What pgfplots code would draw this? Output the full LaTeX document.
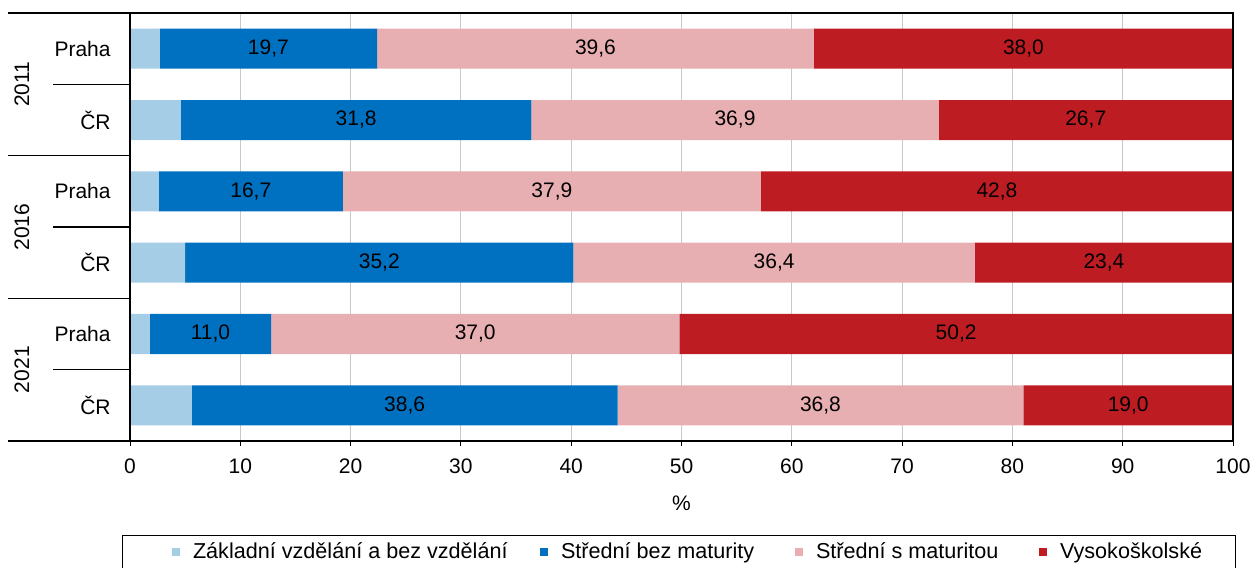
\documentclass[border=0pt]{standalone}
\usepackage{fontspec}
\setmainfont{Liberation Sans}
\usepackage{pgfplots}
\usepackage{pgfplotstable}
\pgfplotsset{compat=1.18}

\definecolor{czakl}{RGB}{166,205,230}
\definecolor{cstr}{RGB}{0,112,192}
\definecolor{cmat}{RGB}{232,175,178}
\definecolor{cvs}{RGB}{190,28,35}
\definecolor{cgrid}{RGB}{200,200,200}

% grid below the bars, frame above them
\pgfplotsset{
  layers/bgrid/.define layer set={axis background,axis grid,pre main,main,axis ticks,axis lines,axis tick labels,axis descriptions,axis foreground}{
    grid style={/pgfplots/on layer=axis grid},
    tick style={/pgfplots/on layer=axis ticks},
    axis line style={/pgfplots/on layer=axis lines},
    label style={/pgfplots/on layer=axis descriptions},
    legend style={/pgfplots/on layer=axis descriptions},
    title style={/pgfplots/on layer=axis descriptions},
    ticklabel style={/pgfplots/on layer=axis tick labels},
  },
  bars/.style={xbar, fill=#1, draw=none,
    legend image code/.code={\fill[##1] (0pt,-2pt) rectangle (4pt,2pt); \path (10pt,0pt);}},
  lbl/.style={stack plots=false, draw=none, no markers, forget plot,
    point meta=explicit symbolic,
    nodes near coords={\pgfmathprintnumber[fixed,fixed zerofill,precision=1,use comma]{\pgfplotspointmeta}},
    nodes near coords style={anchor=center, text=black, font=\fontsize{10.5}{12}\selectfont}},
}

% podil (%) podle nejvyssiho dokonceneho vzdelani
\pgfplotstableread{
pos zakl str mat vs
0 2.7 19.7 39.6 38.0
1 4.6 31.8 36.9 26.7
2 2.6 16.7 37.9 42.8
3 5.0 35.2 36.4 23.4
4 1.8 11.0 37.0 50.2
5 5.6 38.6 36.8 19.0
}\vzdel

\begin{document}
\begin{tikzpicture}[font=\fontsize{10.5}{12}\selectfont]
\begin{axis}[
  at={(65pt,63.5pt)}, anchor=south west,
  scale only axis, width=551.5pt, height=214pt,
  set layers=bgrid,
  stack plots=x, bar width=20pt,
  xmin=0, xmax=100, xtick distance=10,
  ymin=-0.5, ymax=5.5, y dir=reverse,
  ytick={0,1,2,3,4,5},
  yticklabels={Praha,ČR,Praha,ČR,Praha,ČR},
  ytick style={draw=none},
  yticklabel style={anchor=east, inner sep=0pt, xshift=-7pt},
  xticklabel style={yshift=-3pt},
  xtick pos=bottom, tick align=outside, major tick length=2.5pt,
  xtick style={black, line width=0.5pt},
  xmajorgrids, major grid style={cgrid, line width=0.5pt},
  axis line style={black, line width=0.6pt},
  /pgf/number format/assume math mode=true,
  xlabel={\%},
  every axis x label/.style={at={(axis description cs:0.5,0)}, yshift=-31pt, anchor=center},
  clip=false,
  legend columns=4, legend cell align=left,
  legend style={at={([yshift=-47pt]axis description cs:0.4973,0)}, anchor=north,
    draw=black, line width=0.5pt, inner xsep=25pt, inner ysep=3pt,
    font=\fontsize{10.8}{13}\selectfont, nodes={inner sep=0.5pt},
    /tikz/every even column/.append style={column sep=0pt}},
]
\addplot[bars=czakl] table[x=zakl, y=pos] {\vzdel};
\addlegendentry{\makebox[173pt][l]{Základní vzdělání a bez vzdělání}}
\addplot[bars=cstr] table[x=str, y=pos] {\vzdel};
\addlegendentry{\makebox[116.5pt][l]{Střední bez maturity}}
\addplot[bars=cmat] table[x=mat, y=pos] {\vzdel};
\addlegendentry{\makebox[111pt][l]{Střední s maturitou}}
\addplot[bars=cvs] table[x=vs, y=pos] {\vzdel};
\addlegendentry{\makebox[62pt][l]{Vysokoškolské}}

% value labels in the middle of each segment
\addplot[lbl] table[x expr=\thisrow{zakl}+\thisrow{str}/2, y=pos, meta=str] {\vzdel};
\addplot[lbl] table[x expr=\thisrow{zakl}+\thisrow{str}+\thisrow{mat}/2, y=pos, meta=mat] {\vzdel};
\addplot[lbl] table[x expr=\thisrow{zakl}+\thisrow{str}+\thisrow{mat}+\thisrow{vs}/2, y=pos, meta=vs] {\vzdel};

% group separators on the left
\draw[line width=0.6pt] ([xshift=-61pt]axis cs:0,-0.5) -- (axis cs:0,-0.5);
\draw[line width=0.6pt] ([xshift=-61pt]axis cs:0,1.5) -- (axis cs:0,1.5);
\draw[line width=0.6pt] ([xshift=-61pt]axis cs:0,3.5) -- (axis cs:0,3.5);
\draw[line width=0.6pt] ([xshift=-61pt]axis cs:0,5.5) -- (axis cs:0,5.5);
\draw[line width=0.6pt] ([xshift=-38.5pt]axis cs:0,0.5) -- (axis cs:0,0.5);
\draw[line width=0.6pt] ([xshift=-38.5pt]axis cs:0,2.5) -- (axis cs:0,2.5);
\draw[line width=0.6pt] ([xshift=-38.5pt]axis cs:0,4.5) -- (axis cs:0,4.5);
\node[rotate=90] at ([xshift=-54pt]axis cs:0,0.5) {2011};
\node[rotate=90] at ([xshift=-54pt]axis cs:0,2.5) {2016};
\node[rotate=90] at ([xshift=-54pt]axis cs:0,4.5) {2021};
\end{axis}
\pgfresetboundingbox
\useasboundingbox (0,0) rectangle (627pt,284pt);
\end{tikzpicture}
\end{document}
